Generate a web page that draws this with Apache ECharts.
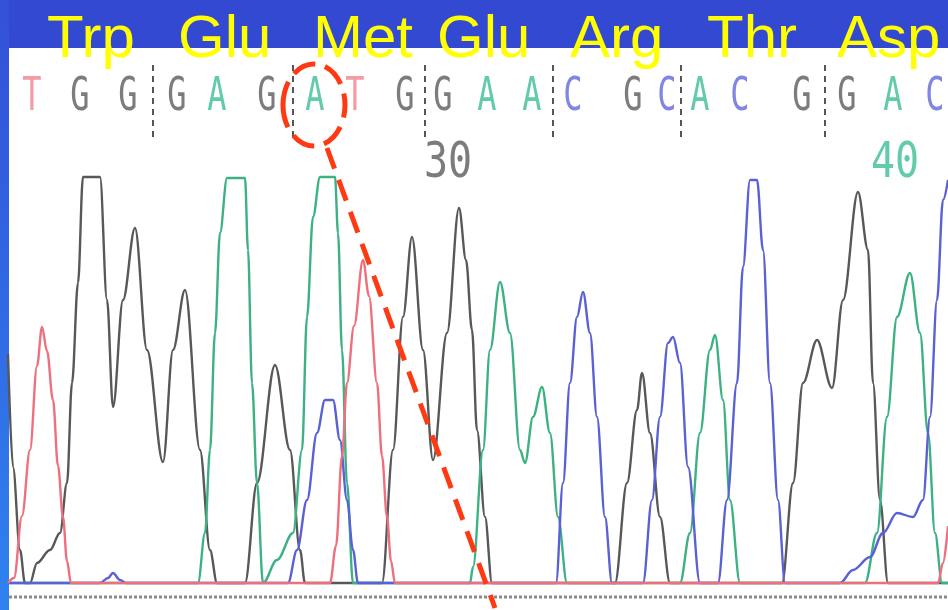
<!DOCTYPE html>
<html><head><meta charset="utf-8">
<script src="https://cdn.jsdelivr.net/npm/echarts@6/dist/echarts.min.js"></script>
<style>html,body{margin:0;padding:0;background:#3349d1;overflow:hidden}#c{width:948px;height:610px}</style>
</head><body><div id="c"></div>
<script>
// ---- data ----
const aminoAcids = ['Trp', 'Glu', 'Met', 'Glu', 'Arg', 'Thr', 'Asp'];
const baseLetters = ['T','G','G','G','A','G','A','T','G','G','A','A','C','G','C','A','C','G','G','A','C'];
const basePos = [32,80,128,177,217,267,315,355,405,443,487,532,573,633,667,700,740,802,847,893,935];
const codonBounds = [153,293,425,553,681,825];
const positionNumbers = ['30', '40'];
const positionNumberPos = [448, 895];
const positionNumberBase = ['G', 'A'];
const mutatedBaseIndex = 6;

// trace points: [scan, signal]
const traceG = [[8,232],[13,119],[20,36],[25,3],[30,3],[37,23],[50,36],[60,53],[67,103],[72,203],[78,303],[83,409],[100,409],[107,286],[113,179],[123,286],[135,358],[147,236],[163,124],[173,236],[185,296],[200,136],[210,36],[217,3],[245,3],[257,103],[275,221],[290,136],[300,36],[305,3],[382,3],[393,136],[403,269],[412,349],[423,236],[433,126],[447,253],[459,378],[466,326],[472,256],[477,156],[485,69],[492,3],[615,3],[627,103],[637,176],[642,213],[650,153],[660,69],[670,3],[782,3],[793,103],[803,203],[817,246],[832,198],[843,286],[858,394],[868,336],[873,203],[880,86],[888,3],[948,3]];
const traceA = [[8,3],[198,3],[205,53],[210,136],[215,253],[220,353],[227,408],[245,408],[248,336],[252,203],[257,103],[263,3],[277,26],[293,53],[302,136],[307,269],[313,369],[320,409],[335,409],[338,353],[342,236],[347,103],[353,3],[470,3],[473,19],[483,136],[490,236],[500,304],[510,253],[520,136],[525,123],[533,169],[542,199],[550,153],[558,69],[567,3],[680,3],[690,53],[700,153],[710,236],[715,251],[723,186],[730,86],[740,3],[865,3],[877,53],[887,169],[897,269],[910,313],[920,253],[928,153],[935,53],[942,3],[948,3]];
const traceC = [[8,3],[100,3],[108,8],[113,13],[120,6],[126,3],[288,3],[297,36],[307,86],[317,153],[325,186],[333,186],[340,146],[347,86],[353,36],[358,3],[556,3],[563,103],[570,203],[577,269],[583,294],[590,253],[597,169],[605,69],[612,3],[643,3],[652,86],[660,169],[668,243],[673,249],[680,223],[688,119],[700,3],[718,3],[727,86],[737,203],[743,319],[750,406],[757,406],[763,336],[770,203],[778,86],[785,3],[840,3],[853,16],[870,29],[883,53],[897,73],[913,69],[923,86],[930,169],[937,286],[943,386],[948,406]];
const traceT = [[8,3],[14,8],[22,70],[30,136],[37,220],[42,259],[47,235],[53,186],[58,120],[63,69],[67,25],[71,3],[330,3],[336,40],[342,130],[347,203],[354,260],[363,326],[369,290],[377,203],[382,130],[387,69],[391,25],[395,3],[938,3],[943,23],[948,60]];

// ---- styles ----
const traceColor = {G:'#585858', A:'#3cb283', C:'#5a60d6', T:'#ef6f7d'};
const letterColor = {G:'#7c7c7c', A:'#62cbab', C:'#8186e2', T:'#f29ca4'};
const titleX = [47,178,313,437,570,707,837];

const chart = echarts.init(document.getElementById('c'), null, {renderer:'canvas'});
const mk = (name, data) => ({
  type:'line', name, data, smooth:0.35, smoothMonotone:'x', symbol:'none', clip:true,
  lineStyle:{color:traceColor[name], width:2.4}, z:2
});
chart.setOption({
  animation:false,
  backgroundColor:'#3349d1',
  grid:{left:0, right:0, top:0, bottom:24},
  xAxis:{type:'value', min:0, max:948, show:false},
  yAxis:{type:'value', min:0, max:586, show:false},
  series:[mk('G',traceG), mk('A',traceA), mk('C',traceC), mk('T',traceT)]
});

const px = (x, y) => chart.convertToPixel({gridIndex:0}, [x, y]);
const g = [];
g.push({type:'rect', z:0, shape:{x:0, y:0, width:9, height:610},
  style:{fill:new echarts.graphic.LinearGradient(0,0,0,1,[{offset:0,color:'#3350d8'},{offset:1,color:'#2f82f0'}])}});
g.push({type:'rect', z:0, shape:{x:9, y:48, width:939, height:562}, style:{fill:'#ffffff'}});
// bottom dotted scale line
g.push({type:'line', z:1, shape:{x1:9, y1:597, x2:948, y2:597}, style:{stroke:'#8a8a8a', lineWidth:3, lineDash:[3,2]}});

// base calls
baseLetters.forEach((b, i) => {
  const p = px(basePos[i], 0);
  g.push({type:'text', z:5, x:p[0], y:98, scaleY:1.45,
    style:{text:b, fill:letterColor[b], font:'32px "DejaVu Sans Mono"', align:'center', verticalAlign:'middle'}});
});
// codon separators
codonBounds.forEach(x => {
  const p = px(x, 0);
  g.push({type:'line', z:5, shape:{x1:p[0], y1:65, x2:p[0], y2:142}, style:{stroke:'#555', lineWidth:2, lineDash:[6,5]}});
});
// position numbers
positionNumbers.forEach((t, i) => {
  const p = px(positionNumberPos[i], 0);
  g.push({type:'text', z:5, x:p[0], y:164, scaleY:1.25,
    style:{text:t, fill:letterColor[positionNumberBase[i]], font:'40px "DejaVu Sans Mono"', align:'center', verticalAlign:'middle'}});
});
// amino acid title
aminoAcids.forEach((a, i) => {
  g.push({type:'text', z:50, x:titleX[i], y:40,
    style:{text:a, fill:'#ffff00', font:'60px "Liberation Sans"', align:'left', verticalAlign:'middle'}});
});
// annotation: circled mutated base and dashed pointer
const mp = px(basePos[mutatedBaseIndex], 0);
g.push({type:'ellipse', z:60, shape:{cx:mp[0]-1, cy:105, rx:31, ry:41},
  style:{fill:null, stroke:'#ff3a12', lineWidth:5, lineDash:[24,10]}});
g.push({type:'line', z:60, shape:{x1:mp[0]+12, y1:148, x2:495, y2:608},
  style:{stroke:'#ff3a12', lineWidth:5, lineDash:[22,12]}});

chart.setOption({graphic:{elements:g}});
</script>
</body></html>
